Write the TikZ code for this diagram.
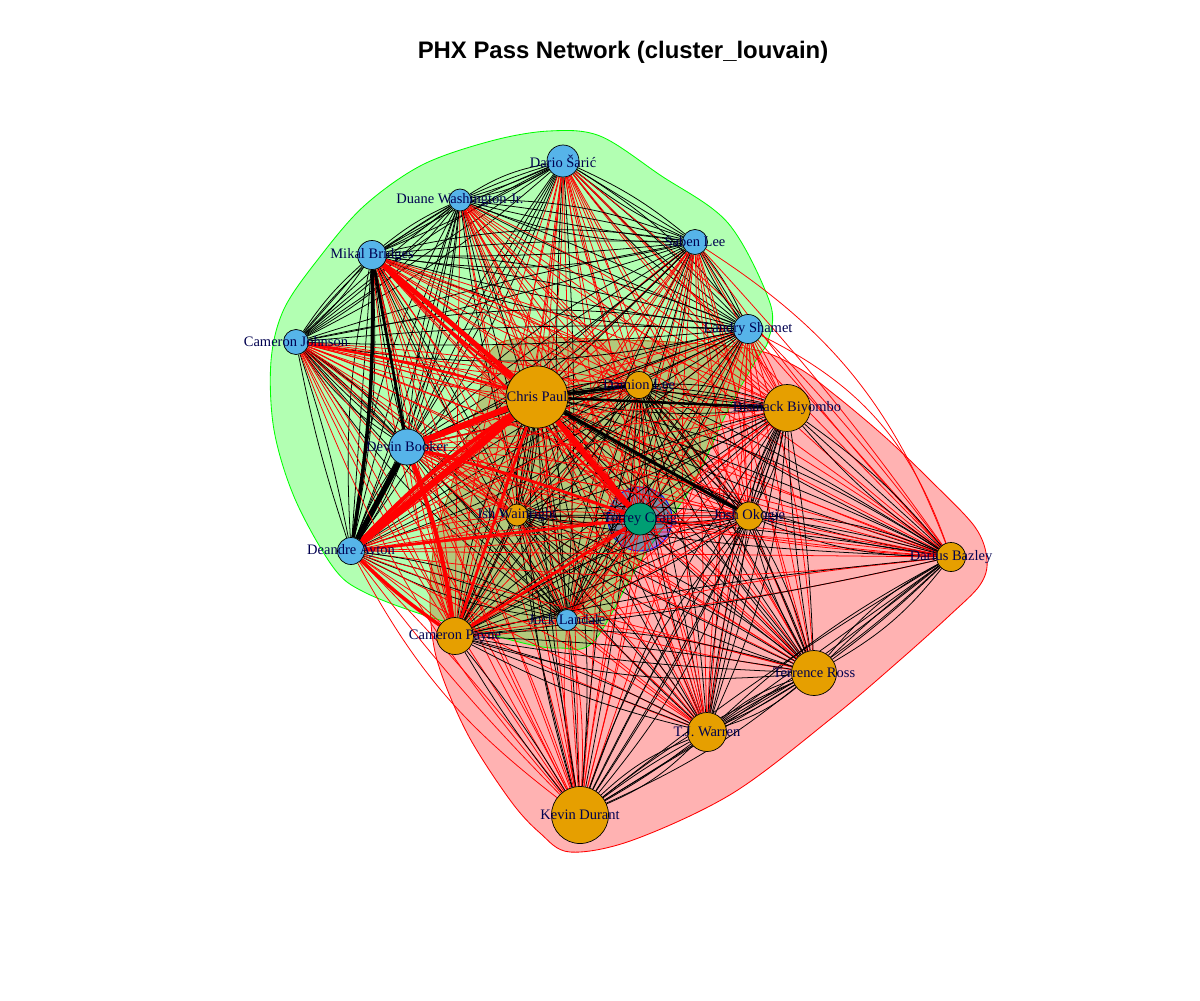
\documentclass[tikz,border=0pt]{standalone}
\usepackage{fontspec}
\setmainfont{Liberation Serif}
\newfontfamily\titlefont{Liberation Sans}
\usetikzlibrary{positioning}

\definecolor{grpO}{RGB}{230,159,0}
\definecolor{grpB}{RGB}{86,180,233}
\definecolor{grpG}{RGB}{0,158,115}
\definecolor{labelcol}{RGB}{0,0,80}

\pgfdeclarelayer{hulls}
\pgfdeclarelayer{edges}
\pgfsetlayers{hulls,edges,main}

% id / x / y / radius / cluster / name
\def\playerlist{1/563/161/16/B/Dario Šarić,
  2/460/200/11/B/Duane Washington Jr.,
  3/695/242/12.5/B/Saben Lee,
  4/372/255/14.5/B/Mikal Bridges,
  5/748/329/14.5/B/Landry Shamet,
  6/296/342/12.5/B/Cameron Johnson,
  7/537/397/31/O/Chris Paul,
  8/639/385/13.5/O/Damion Lee,
  9/787/408/23.5/O/Bismack Biyombo,
  10/407/447/18/B/Devin Booker,
  11/517/515/11/O/Ish Wainright,
  12/640/519/16/G/Torrey Craig,
  13/749/516/14/O/Josh Okogie,
  14/951/557/14.5/O/Darius Bazley,
  15/351/551/13.5/B/Deandre Ayton,
  16/567/620/10.5/B/Jock Landale,
  17/455/636/18.5/O/Cameron Payne,
  18/814/673/22.5/O/Terrence Ross,
  19/707/732/19.5/O/T.J. Warren,
  20/580/815/28.5/O/Kevin Durant}

\begin{document}
\begin{tikzpicture}[
  x=0.025cm, y=-0.025cm,
  player/.style={circle, draw=black, line width=0.5pt, inner sep=0pt, minimum size=#1*0.05cm},
  plabel/.style={text=labelcol, inner sep=0pt, font=\fontsize{10.3}{12}\selectfont},
  passedge/.style={line width=0.55pt},
  hullred/.style={fill=red, fill opacity=0.3, draw=red, line width=0.6pt},
  hullgreen/.style={fill=green, fill opacity=0.3, draw=green, line width=0.6pt},
  hullblue/.style={fill=blue, fill opacity=0.3, draw=blue, line width=0.6pt},
  titlestyle/.style={font=\titlefont\bfseries\fontsize{17}{20}\selectfont},
]
\useasboundingbox (0,0) rectangle (1200,1000);

% players
\foreach \id/\x/\y/\r/\c/\name in \playerlist {
  \expandafter\xdef\csname cl\id\endcsname{\c}
  \node[player=\r, fill=grp\c] (p\id) at (\x,\y) {};
}

% cluster hulls
\begin{pgfonlayer}{hulls}
\fill[white] (0,0) rectangle (1200,1000);
\path[hullred] plot[smooth cycle, tension=0.55] coordinates {
  (500,343) (620,340) (745,348) (795,366) (835,395) (885,437) (930,480)
  (975,527) (987,560) (980,585) (950,615) (900,660) (833,717) (733,793)
  (633,840) (570,852) (540,833) (510,800) (467,733) (437,660) (430,600)
  (435,540) (450,490) (476,410)};
\path[hullgreen] plot[smooth cycle, tension=0.55] coordinates {
  (549,131) (600,136) (660,175) (728,223) (770,303) (768,341) (756,360)
  (726,414) (692,486) (641,560) (594,641) (560,648) (523,643) (430,617)
  (364,592) (333,567) (295,499) (274,430) (271,361) (284,309) (319,258)
  (364,206) (422,165) (491,141)};
\path[hullblue] (p12.center) circle[radius=32];
\end{pgfonlayer}

% passes: black inside a cluster, red across clusters
\begin{pgfonlayer}{edges}
\foreach \i in {1,...,19} {
  \pgfmathtruncatemacro\jfirst{\i+1}
  \foreach \j in {\jfirst,...,20} {
    \edef\ca{\csname cl\i\endcsname}\edef\cb{\csname cl\j\endcsname}
    \ifx\ca\cb
      \def\ecol{black}\pgfmathtruncatemacro\cnt{2+mod(\i*7+\j*5,3)}
    \else
      \def\ecol{red}\pgfmathtruncatemacro\cnt{1+mod(\i*7+\j*5,3)}
    \fi
    \foreach \k in {1,...,\cnt} {
      \pgfmathsetmacro\bnd{(\k-(\cnt+1)/2)*7}
      \draw[passedge, draw=\ecol] (p\i) to[bend left=\bnd] (p\j);
    }
  }
}
% heavy passing lanes
\foreach \a/\b/\w/\bnd/\col in {
  15/7/5/0/red, 15/7/3/6/red, 10/7/4.5/0/red, 4/7/3.5/0/red, 4/7/2/-5/red,
  7/12/4/0/red, 17/10/3/-6/red, 17/15/2.5/4/red, 17/7/2/0/red,
  6/7/1.8/3/red, 15/12/2/0/red, 10/12/2/3/red, 4/12/1.5/0/red, 17/12/2/0/red,
  10/15/4/0/black, 4/15/2.5/5/black, 4/10/2/0/black, 7/13/2.2/0/black,
  7/8/2/0/black, 7/9/1.8/0/black,
  5/14/0.55/22/red, 3/14/0.55/18/red, 6/20/0.55/-10/red, 15/20/0.55/-12/red} {
  \draw[line width=\w pt, draw=\col] (p\a) to[bend left=\bnd] (p\b);
}
\end{pgfonlayer}

% names, set over all the discs
\foreach \id/\x/\y/\r/\c/\name in \playerlist {
  \node[plabel] (l\id) at (p\id.center) {\name};
}

\node[titlestyle] (title) at (623,52) {PHX Pass Network (cluster\_louvain)};
\end{tikzpicture}
\end{document}
